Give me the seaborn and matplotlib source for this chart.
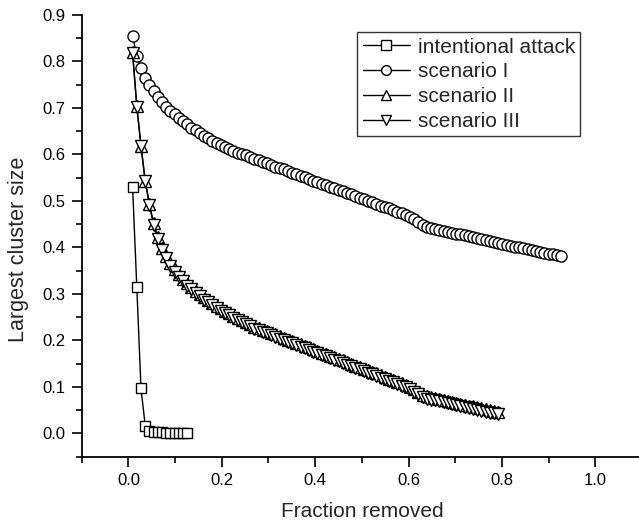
import matplotlib
matplotlib.use("Agg")
import matplotlib.pyplot as plt
import seaborn as sns
import pandas as pd

# ---------------- data ----------------
x_attack = [0.009, 0.018, 0.027, 0.036, 0.045, 0.054, 0.063, 0.072, 0.081, 0.090,
            0.099, 0.108, 0.117, 0.126]
y_attack = [0.530, 0.315, 0.097, 0.017, 0.006, 0.004, 0.003, 0.003, 0.002, 0.002,
            0.002, 0.002, 0.002, 0.002]

x_s1 = [0.009, 0.018, 0.027, 0.036, 0.045, 0.054, 0.063, 0.072, 0.081, 0.090,
        0.099, 0.108, 0.117, 0.126, 0.135, 0.144, 0.153, 0.162, 0.171, 0.180,
        0.189, 0.198, 0.207, 0.216, 0.225, 0.234, 0.243, 0.252, 0.261, 0.270,
        0.279, 0.288, 0.297, 0.306, 0.315, 0.324, 0.333, 0.342, 0.351, 0.360,
        0.369, 0.378, 0.387, 0.396, 0.405, 0.414, 0.423, 0.432, 0.441, 0.450,
        0.459, 0.468, 0.477, 0.486, 0.495, 0.504, 0.513, 0.522, 0.531, 0.540,
        0.549, 0.558, 0.567, 0.576, 0.585, 0.594, 0.603, 0.612, 0.621, 0.630,
        0.639, 0.648, 0.657, 0.666, 0.675, 0.684, 0.693, 0.702, 0.711, 0.720,
        0.729, 0.738, 0.747, 0.756, 0.765, 0.774, 0.783, 0.792, 0.801, 0.810,
        0.819, 0.828, 0.837, 0.846, 0.855, 0.864, 0.873, 0.882, 0.891, 0.900,
        0.909, 0.918, 0.927]
y_s1 = [0.855, 0.812, 0.785, 0.765, 0.749, 0.736, 0.724, 0.713, 0.703, 0.694,
        0.686, 0.678, 0.671, 0.665, 0.658, 0.652, 0.646, 0.640, 0.635, 0.630,
        0.625, 0.621, 0.617, 0.612, 0.608, 0.604, 0.601, 0.598, 0.595, 0.591,
        0.588, 0.584, 0.581, 0.578, 0.574, 0.571, 0.568, 0.564, 0.561, 0.558,
        0.554, 0.551, 0.548, 0.544, 0.541, 0.537, 0.534, 0.531, 0.527, 0.524,
        0.521, 0.517, 0.514, 0.511, 0.507, 0.504, 0.500, 0.497, 0.494, 0.490,
        0.487, 0.484, 0.480, 0.477, 0.474, 0.470, 0.466, 0.461, 0.454, 0.448,
        0.444, 0.442, 0.440, 0.438, 0.436, 0.434, 0.432, 0.430, 0.428, 0.426,
        0.424, 0.422, 0.420, 0.418, 0.416, 0.414, 0.412, 0.410, 0.408, 0.406,
        0.404, 0.402, 0.400, 0.399, 0.397, 0.395, 0.393, 0.391, 0.389, 0.387,
        0.385, 0.383, 0.381]

x_s23 = [0.009, 0.018, 0.027, 0.036, 0.045, 0.054, 0.063, 0.072, 0.081, 0.090,
         0.099, 0.108, 0.117, 0.126, 0.135, 0.144, 0.153, 0.162, 0.171, 0.180,
         0.189, 0.198, 0.207, 0.216, 0.225, 0.234, 0.243, 0.252, 0.261, 0.270,
         0.279, 0.288, 0.297, 0.306, 0.315, 0.324, 0.333, 0.342, 0.351, 0.360,
         0.369, 0.378, 0.387, 0.396, 0.405, 0.414, 0.423, 0.432, 0.441, 0.450,
         0.459, 0.468, 0.477, 0.486, 0.495, 0.504, 0.513, 0.522, 0.531, 0.540,
         0.549, 0.558, 0.567, 0.576, 0.585, 0.594, 0.603, 0.612, 0.621, 0.630,
         0.639, 0.648, 0.657, 0.666, 0.675, 0.684, 0.693, 0.702, 0.711, 0.720,
         0.729, 0.738, 0.747, 0.756, 0.765, 0.774, 0.783, 0.792]
y_s2 = [0.820, 0.704, 0.619, 0.544, 0.494, 0.452, 0.423, 0.399, 0.382, 0.366,
        0.353, 0.342, 0.332, 0.323, 0.315, 0.307, 0.300, 0.293, 0.287, 0.281,
        0.275, 0.269, 0.264, 0.259, 0.253, 0.248, 0.244, 0.240, 0.236, 0.230,
        0.227, 0.223, 0.220, 0.216, 0.213, 0.209, 0.206, 0.202, 0.199, 0.195,
        0.192, 0.188, 0.185, 0.181, 0.178, 0.174, 0.171, 0.167, 0.164, 0.160,
        0.157, 0.153, 0.150, 0.146, 0.143, 0.139, 0.136, 0.132, 0.129, 0.125,
        0.122, 0.118, 0.115, 0.111, 0.108, 0.104, 0.100, 0.095, 0.089, 0.083,
        0.080, 0.078, 0.076, 0.074, 0.072, 0.070, 0.068, 0.066, 0.064, 0.062,
        0.060, 0.059, 0.057, 0.055, 0.053, 0.051, 0.049, 0.047]
y_s3 = [0.818, 0.703, 0.618, 0.542, 0.491, 0.449, 0.419, 0.395, 0.377, 0.361,
        0.348, 0.337, 0.327, 0.318, 0.310, 0.302, 0.295, 0.288, 0.282, 0.276,
        0.270, 0.264, 0.259, 0.254, 0.248, 0.243, 0.239, 0.235, 0.231, 0.225,
        0.222, 0.218, 0.215, 0.211, 0.208, 0.204, 0.201, 0.197, 0.194, 0.190,
        0.187, 0.183, 0.180, 0.176, 0.173, 0.169, 0.166, 0.162, 0.159, 0.155,
        0.152, 0.148, 0.145, 0.141, 0.138, 0.134, 0.131, 0.127, 0.124, 0.120,
        0.117, 0.113, 0.110, 0.106, 0.103, 0.099, 0.095, 0.090, 0.084, 0.078,
        0.075, 0.073, 0.071, 0.069, 0.067, 0.065, 0.063, 0.061, 0.059, 0.057,
        0.055, 0.053, 0.051, 0.049, 0.047, 0.045, 0.043, 0.041]

labels = ["intentional attack", "scenario I", "scenario II", "scenario III"]
markers = ["s", "o", "^", "v"]
x_ticks = [0.0, 0.2, 0.4, 0.6, 0.8, 1.0]
y_ticks = [0.0, 0.1, 0.2, 0.3, 0.4, 0.5, 0.6, 0.7, 0.8, 0.9]

# ---------------- style ----------------
sns.set_theme(style="ticks")
plt.rcParams["font.family"] = ["Liberation Sans", "DejaVu Sans"]

fig = plt.figure(figsize=(6.39, 5.29), dpi=100)
W, H = 639, 529
left_px, right_px, top_px, bottom_px = 81.7, 642.0, 15.0, 456.7
ax = fig.add_axes([left_px / W, 1 - bottom_px / H,
                   (right_px - left_px) / W, (bottom_px - top_px) / H])

series = [(x_attack, y_attack), (x_s1, y_s1), (x_s23, y_s2), (x_s23, y_s3)]
msizes = [6.8, 8.0, 8.0, 8.0]
for (xs, ys), lab, mk, ms in zip(series, labels, markers, msizes):
    df = pd.DataFrame({"x": xs, "y": ys})
    sns.lineplot(data=df, x="x", y="y", ax=ax, color="black", linewidth=1.0,
                 marker=mk, markersize=ms, markerfacecolor="white",
                 markeredgecolor="black", markeredgewidth=1.0, label=lab,
                 sort=False, estimator=None)

ax.set_xlim(-0.1, 1.1)
ax.set_ylim(-0.05, 0.9)
ax.set_xticks(x_ticks)
ax.set_xticklabels([f"{v:.1f}" for v in x_ticks])
ax.set_yticks(y_ticks)
ax.set_yticklabels([f"{v:.1f}" for v in y_ticks])
ax.set_xticks([-0.1, 0.1, 0.3, 0.5, 0.7, 0.9, 1.1], minor=True)
ax.set_yticks([-0.05, 0.05, 0.15, 0.25, 0.35, 0.45, 0.55, 0.65, 0.75, 0.85], minor=True)

for side in ["top", "right"]:
    ax.spines[side].set_visible(False)
for side in ["left", "bottom"]:
    ax.spines[side].set_linewidth(1.3)
    ax.spines[side].set_color("black")

ax.tick_params(which="major", direction="out", length=7, width=1.2,
               labelsize=12, colors="black", pad=5)
ax.tick_params(which="minor", direction="out", length=4, width=1.2, colors="black")

ax.set_xlabel("Fraction removed", fontsize=15, labelpad=10)
ax.set_ylabel("Largest cluster size", fontsize=15.5)
ax.yaxis.set_label_coords(-0.094, 0.47)

leg = ax.legend(loc="upper left", bbox_to_anchor=(357.3 / W, 1 - 32.3 / H),
                bbox_transform=fig.transFigure, borderaxespad=0, frameon=True,
                fancybox=False, fontsize=15, handlelength=2.3, handletextpad=0.35,
                labelspacing=0.28, borderpad=0.25)
leg.get_frame().set_edgecolor("black")
leg.get_frame().set_linewidth(1.0)
for h in leg.legend_handles:
    h.set_markersize(7.0)

fig.savefig("out.png", dpi=100)
